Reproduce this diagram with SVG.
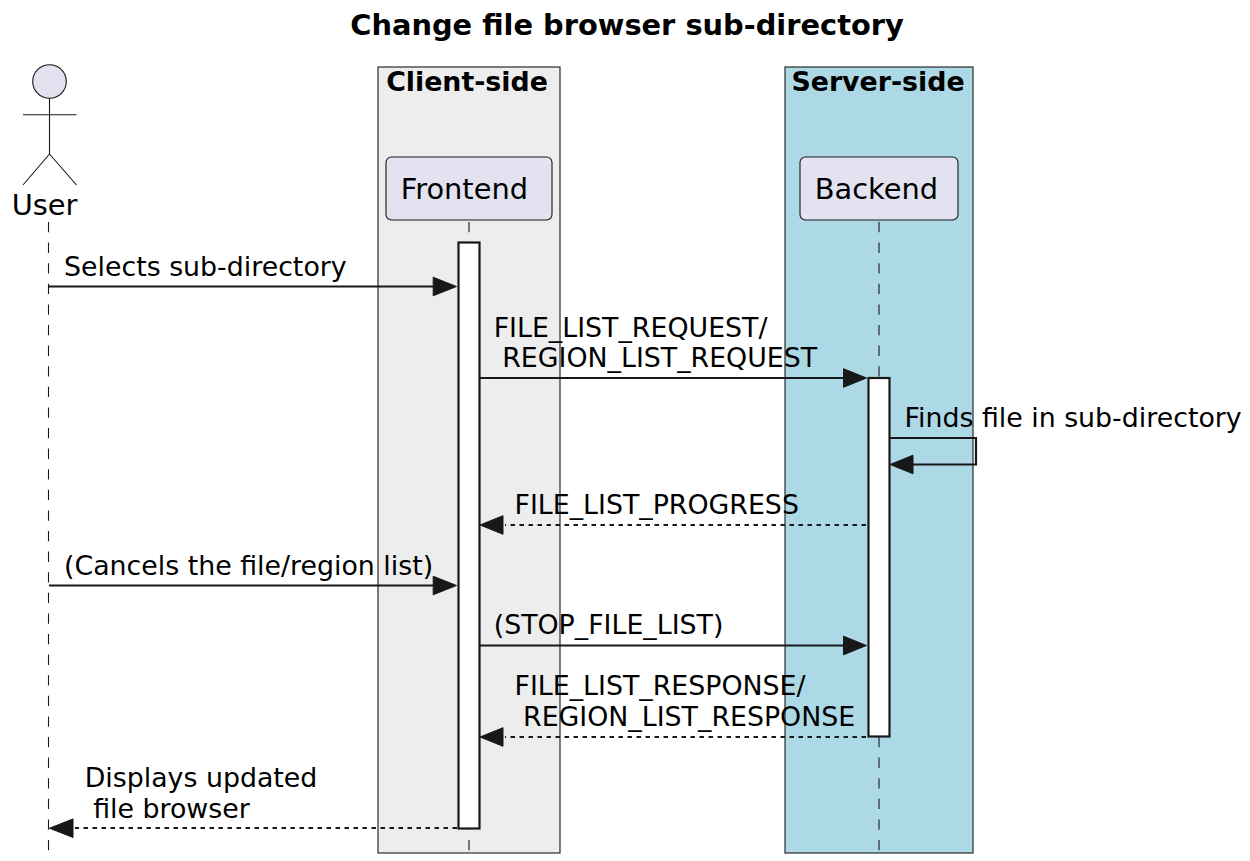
<svg xmlns="http://www.w3.org/2000/svg" width="1250" height="861" viewBox="0 0 1250 861">
<style>
text{font-family:"DejaVu Sans",sans-serif;font-size:26.8px;fill:#000}
.b{font-weight:bold}
.big{font-size:28.85px}
.l{fill:none;stroke:#181818;stroke-width:2.2}
.d{stroke-dasharray:4.5 4.5}
.life{stroke:#181818;stroke-width:1.1;stroke-dasharray:10.3 10.3;fill:none}
.act{fill:#fff;stroke:#181818;stroke-width:2.2}
.part{fill:#E2E2F0;stroke:#181818;stroke-width:1.1}
.ar{fill:#181818;stroke:#181818;stroke-width:1}
</style>
<rect width="1250" height="861" fill="#fff"/>
<text class="b big" x="627" y="35" text-anchor="middle">Change file browser sub-directory</text>
<g id="box-client"><rect x="378" y="67" width="182" height="786" fill="#EDEDED" stroke="#181818" stroke-width="1.1"/><text class="b" x="467" y="91" text-anchor="middle">Client-side</text></g>
<g id="box-server"><rect x="785" y="67" width="188" height="786" fill="#ADD8E6" stroke="#181818" stroke-width="1.1"/><text class="b" x="878" y="91" text-anchor="middle">Server-side</text></g>
<g id="lifelines">
<path class="life" d="M48.500 222V853"/><path class="life" d="M469 222V853"/><path class="life" d="M879 222V853"/>
</g>
<g id="user"><circle cx="49.500" cy="81.500" r="16.800" class="part"/><path d="M49.500 98.300V154M23 114.800H76.500M49.500 154L23 185M49.500 154L76.500 185" fill="none" stroke="#181818" stroke-width="1.100"/><text class="big" x="44.500" y="214.500" text-anchor="middle">User</text></g>
<g id="frontend"><rect class="part" x="386" y="157" width="166" height="63" rx="5.500"/><text class="big" x="400.700" y="199">Frontend</text></g>
<g id="backend"><rect class="part" x="800" y="157" width="158" height="63" rx="5.500"/><text class="big" x="814.700" y="199">Backend</text></g>
<g id="activations"><rect class="act" x="458.500" y="242.500" width="21" height="586"/><rect class="act" x="868.500" y="378" width="21" height="358.500"/></g>
<g id="connectors">
<path class="l" d="M49 286.500H436"/><path class="ar" d="M433.200 277.200L456.500 286.500L433.200 295.800Z"/>
<path class="l" d="M480 378H845"/><path class="ar" d="M843.500 368.700L866.500 378L843.500 387.300Z"/>
<path class="l" d="M890 438H976V464.500H912"/><path class="ar" d="M913 455.200L890 464.500L913 473.800Z"/>
<path class="l d" d="M866 525H505"/><path class="ar" d="M503 515.700L480 525L503 534.300Z"/>
<path class="l" d="M49 585.500H436"/><path class="ar" d="M433.200 576.200L456.500 585.500L433.200 594.800Z"/>
<path class="l" d="M480 645.500H845"/><path class="ar" d="M843.500 636.200L866.500 645.500L843.500 654.800Z"/>
<path class="l d" d="M866 737H505"/><path class="ar" d="M503 727.700L480 737L503 746.300Z"/>
<path class="l d" d="M457 828H75"/><path class="ar" d="M73 818.900L49.500 828.200L73 837.500Z"/>
</g>
<g id="labels">
<text x="64" y="276">Selects sub-directory</text>
<text x="493.700" y="337">FILE_LIST_REQUEST/</text>
<text x="493.700" y="367" xml:space="preserve"> REGION_LIST_REQUEST</text>
<text x="904.500" y="427">Finds file in sub-directory</text>
<text x="514.500" y="514">FILE_LIST_PROGRESS</text>
<text x="64" y="575">(Cancels the file/region list)</text>
<text x="493.700" y="634">(STOP_FILE_LIST)</text>
<text x="514.500" y="695">FILE_LIST_RESPONSE/</text>
<text x="514.500" y="726" xml:space="preserve"> REGION_LIST_RESPONSE</text>
<text x="84.700" y="787">Displays updated</text>
<text x="84.700" y="818" xml:space="preserve"> file browser</text>
</g>
</svg>
